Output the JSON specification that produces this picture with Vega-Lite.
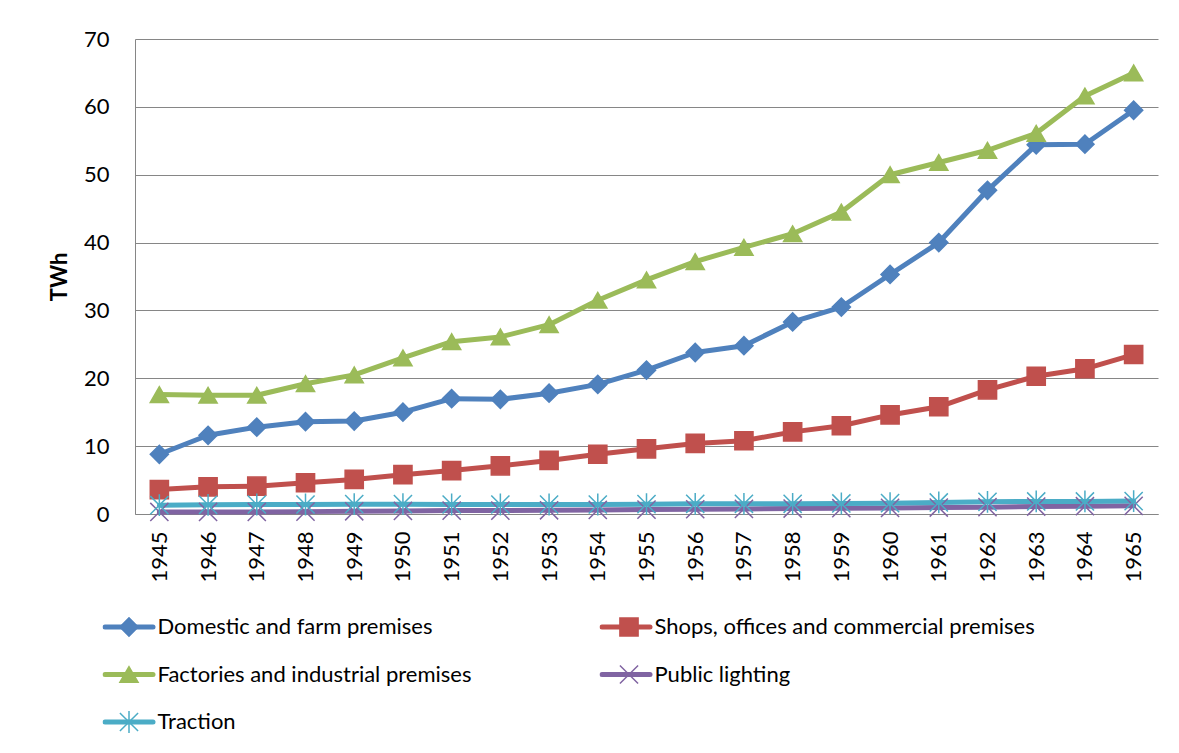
{
 "$schema": "https://vega.github.io/schema/vega-lite/v6.json",
 "width": 1023,
 "height": 475,
 "autosize": "none",
 "padding": {"left": 135, "top": 39, "right": 21, "bottom": 239},
 "background": "white",
 "config": {"font": "Lato", "view": {"stroke": null}},
 "datasets": {
  "d": [
   {"year": "1945", "series": "Domestic and farm premises", "value": 8.8},
   {"year": "1946", "series": "Domestic and farm premises", "value": 11.6},
   {"year": "1947", "series": "Domestic and farm premises", "value": 12.8},
   {"year": "1948", "series": "Domestic and farm premises", "value": 13.6},
   {"year": "1949", "series": "Domestic and farm premises", "value": 13.7},
   {"year": "1950", "series": "Domestic and farm premises", "value": 15.0},
   {"year": "1951", "series": "Domestic and farm premises", "value": 17.0},
   {"year": "1952", "series": "Domestic and farm premises", "value": 16.9},
   {"year": "1953", "series": "Domestic and farm premises", "value": 17.8},
   {"year": "1954", "series": "Domestic and farm premises", "value": 19.1},
   {"year": "1955", "series": "Domestic and farm premises", "value": 21.2},
   {"year": "1956", "series": "Domestic and farm premises", "value": 23.8},
   {"year": "1957", "series": "Domestic and farm premises", "value": 24.8},
   {"year": "1958", "series": "Domestic and farm premises", "value": 28.3},
   {"year": "1959", "series": "Domestic and farm premises", "value": 30.5},
   {"year": "1960", "series": "Domestic and farm premises", "value": 35.3},
   {"year": "1961", "series": "Domestic and farm premises", "value": 40.0},
   {"year": "1962", "series": "Domestic and farm premises", "value": 47.7},
   {"year": "1963", "series": "Domestic and farm premises", "value": 54.4},
   {"year": "1964", "series": "Domestic and farm premises", "value": 54.5},
   {"year": "1965", "series": "Domestic and farm premises", "value": 59.5},
   {"year": "1945", "series": "Shops, offices and commercial premises", "value": 3.6},
   {"year": "1946", "series": "Shops, offices and commercial premises", "value": 4.0},
   {"year": "1947", "series": "Shops, offices and commercial premises", "value": 4.1},
   {"year": "1948", "series": "Shops, offices and commercial premises", "value": 4.6},
   {"year": "1949", "series": "Shops, offices and commercial premises", "value": 5.1},
   {"year": "1950", "series": "Shops, offices and commercial premises", "value": 5.8},
   {"year": "1951", "series": "Shops, offices and commercial premises", "value": 6.4},
   {"year": "1952", "series": "Shops, offices and commercial premises", "value": 7.1},
   {"year": "1953", "series": "Shops, offices and commercial premises", "value": 7.9},
   {"year": "1954", "series": "Shops, offices and commercial premises", "value": 8.8},
   {"year": "1955", "series": "Shops, offices and commercial premises", "value": 9.6},
   {"year": "1956", "series": "Shops, offices and commercial premises", "value": 10.4},
   {"year": "1957", "series": "Shops, offices and commercial premises", "value": 10.8},
   {"year": "1958", "series": "Shops, offices and commercial premises", "value": 12.1},
   {"year": "1959", "series": "Shops, offices and commercial premises", "value": 13.0},
   {"year": "1960", "series": "Shops, offices and commercial premises", "value": 14.6},
   {"year": "1961", "series": "Shops, offices and commercial premises", "value": 15.8},
   {"year": "1962", "series": "Shops, offices and commercial premises", "value": 18.3},
   {"year": "1963", "series": "Shops, offices and commercial premises", "value": 20.3},
   {"year": "1964", "series": "Shops, offices and commercial premises", "value": 21.4},
   {"year": "1965", "series": "Shops, offices and commercial premises", "value": 23.5},
   {"year": "1945", "series": "Factories and industrial premises", "value": 17.6},
   {"year": "1946", "series": "Factories and industrial premises", "value": 17.5},
   {"year": "1947", "series": "Factories and industrial premises", "value": 17.5},
   {"year": "1948", "series": "Factories and industrial premises", "value": 19.2},
   {"year": "1949", "series": "Factories and industrial premises", "value": 20.5},
   {"year": "1950", "series": "Factories and industrial premises", "value": 23.0},
   {"year": "1951", "series": "Factories and industrial premises", "value": 25.4},
   {"year": "1952", "series": "Factories and industrial premises", "value": 26.1},
   {"year": "1953", "series": "Factories and industrial premises", "value": 27.9},
   {"year": "1954", "series": "Factories and industrial premises", "value": 31.5},
   {"year": "1955", "series": "Factories and industrial premises", "value": 34.5},
   {"year": "1956", "series": "Factories and industrial premises", "value": 37.2},
   {"year": "1957", "series": "Factories and industrial premises", "value": 39.3},
   {"year": "1958", "series": "Factories and industrial premises", "value": 41.3},
   {"year": "1959", "series": "Factories and industrial premises", "value": 44.5},
   {"year": "1960", "series": "Factories and industrial premises", "value": 50.0},
   {"year": "1961", "series": "Factories and industrial premises", "value": 51.8},
   {"year": "1962", "series": "Factories and industrial premises", "value": 53.6},
   {"year": "1963", "series": "Factories and industrial premises", "value": 56.1},
   {"year": "1964", "series": "Factories and industrial premises", "value": 61.6},
   {"year": "1965", "series": "Factories and industrial premises", "value": 65.0},
   {"year": "1945", "series": "Public lighting", "value": 0.3},
   {"year": "1946", "series": "Public lighting", "value": 0.3},
   {"year": "1947", "series": "Public lighting", "value": 0.3},
   {"year": "1948", "series": "Public lighting", "value": 0.35},
   {"year": "1949", "series": "Public lighting", "value": 0.4},
   {"year": "1950", "series": "Public lighting", "value": 0.45},
   {"year": "1951", "series": "Public lighting", "value": 0.5},
   {"year": "1952", "series": "Public lighting", "value": 0.5},
   {"year": "1953", "series": "Public lighting", "value": 0.55},
   {"year": "1954", "series": "Public lighting", "value": 0.6},
   {"year": "1955", "series": "Public lighting", "value": 0.65},
   {"year": "1956", "series": "Public lighting", "value": 0.7},
   {"year": "1957", "series": "Public lighting", "value": 0.75},
   {"year": "1958", "series": "Public lighting", "value": 0.8},
   {"year": "1959", "series": "Public lighting", "value": 0.85},
   {"year": "1960", "series": "Public lighting", "value": 0.9},
   {"year": "1961", "series": "Public lighting", "value": 0.95},
   {"year": "1962", "series": "Public lighting", "value": 1.0},
   {"year": "1963", "series": "Public lighting", "value": 1.1},
   {"year": "1964", "series": "Public lighting", "value": 1.15},
   {"year": "1965", "series": "Public lighting", "value": 1.2},
   {"year": "1945", "series": "Traction", "value": 1.3},
   {"year": "1946", "series": "Traction", "value": 1.35},
   {"year": "1947", "series": "Traction", "value": 1.4},
   {"year": "1948", "series": "Traction", "value": 1.4},
   {"year": "1949", "series": "Traction", "value": 1.45},
   {"year": "1950", "series": "Traction", "value": 1.45},
   {"year": "1951", "series": "Traction", "value": 1.4},
   {"year": "1952", "series": "Traction", "value": 1.4},
   {"year": "1953", "series": "Traction", "value": 1.4},
   {"year": "1954", "series": "Traction", "value": 1.4},
   {"year": "1955", "series": "Traction", "value": 1.45},
   {"year": "1956", "series": "Traction", "value": 1.5},
   {"year": "1957", "series": "Traction", "value": 1.5},
   {"year": "1958", "series": "Traction", "value": 1.5},
   {"year": "1959", "series": "Traction", "value": 1.55},
   {"year": "1960", "series": "Traction", "value": 1.6},
   {"year": "1961", "series": "Traction", "value": 1.7},
   {"year": "1962", "series": "Traction", "value": 1.8},
   {"year": "1963", "series": "Traction", "value": 1.85},
   {"year": "1964", "series": "Traction", "value": 1.85},
   {"year": "1965", "series": "Traction", "value": 1.9}
  ]
 },
 "data": {"name": "d"},
 "encoding": {
  "x": {
   "field": "year", "type": "ordinal",
   "scale": {"padding": 0.5},
   "axis": {"title": null, "labelAngle": -90, "ticks": false, "labelPadding": 17, "labelFontSize": 22, "labelFont": "Lato", "labelColor": "black", "domainColor": "#868686", "domainWidth": 1, "grid": false}
  },
  "y": {
   "field": "value", "type": "quantitative",
   "scale": {"domain": [0, 70], "nice": false},
   "axis": {"title": "TWh", "titleFont": "Lato", "titleFontSize": 22, "titleFontWeight": "bold", "titleColor": "black", "titlePadding": 12, "values": [0, 10, 20, 30, 40, 50, 60, 70], "ticks": false, "labelPadding": 26, "labelFontSize": 22, "labelFont": "Lato", "labelColor": "black", "domainColor": "#868686", "gridColor": "#868686", "grid": true, "gridWidth": 1}
  },
  "color": {
   "field": "series", "type": "nominal",
   "scale": {
    "domain": ["Domestic and farm premises", "Shops, offices and commercial premises", "Factories and industrial premises", "Public lighting", "Traction"],
    "range": ["#4F81BD", "#C0504D", "#9BBB59", "#8064A2", "#4BACC6"]
   },
   "legend": {
    "title": null, "orient": "none", "direction": "horizontal", "legendX": -32.5, "legendY": 576, "columns": 2,
    "symbolType": "stroke", "symbolSize": 2304, "symbolStrokeWidth": 5, "clipHeight": 24,
    "rowPadding": 23.5, "columnPadding": 128, "labelOffset": 2, "labelFontSize": 22, "labelFont": "Lato",
    "labelColor": "black", "labelLimit": 0, "padding": 0,
    "encoding": {"symbols": {"strokeCap": {"value": "round"}, "opacity": {"value": 1}}}
   }
  }
 },
 "layer": [
  {"mark": {"type": "line", "strokeWidth": 5, "strokeJoin": "round", "strokeCap": "round"}},
  {
   "mark": {"type": "point", "filled": true, "size": 330, "opacity": 1, "strokeWidth": 1.5},
   "encoding": {
    "shape": {
     "field": "series", "type": "nominal",
     "sort": ["Domestic and farm premises", "Shops, offices and commercial premises", "Factories and industrial premises", "Public lighting", "Traction"],
     "scale": {"range": ["diamond", "square", "triangle-up", "M-1,-1L1,1M-1,1L1,-1", "M-1,-1L1,1M-1,1L1,-1M0,-1.2L0,1.2"]},
     "legend": {
      "title": null, "orient": "none", "direction": "horizontal", "legendX": -32.5, "legendY": 576, "columns": 2,
      "symbolOffset": 15.5, "clipHeight": 24,
      "rowPadding": 23.5, "columnPadding": 462, "labelOffset": 0, "labelFontSize": 22, "labelFont": "Lato",
      "labelExpr": "''", "labelLimit": 0, "padding": 0,
      "encoding": {"symbols": {
       "size": {"value": 330}, "strokeWidth": {"value": 1.5},
       "fill": {"value": {"expr": "scale('color', datum.value)"}},
       "stroke": {"value": {"expr": "scale('color', datum.value)"}},
       "opacity": {"value": 1}
      }}
     }
    },
    "stroke": {
     "field": "series", "type": "nominal",
     "scale": {
      "domain": ["Domestic and farm premises", "Shops, offices and commercial premises", "Factories and industrial premises", "Public lighting", "Traction"],
      "range": ["#4F81BD", "#C0504D", "#9BBB59", "#8064A2", "#4BACC6"]
     },
     "legend": null
    }
   }
  }
 ]
}
